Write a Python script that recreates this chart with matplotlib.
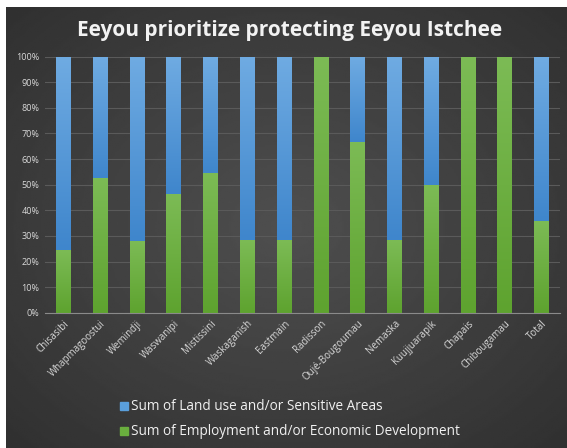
import matplotlib
matplotlib.use("Agg")
import matplotlib.pyplot as plt
import numpy as np
from matplotlib.colors import LinearSegmentedColormap

# datos
comunidades = ["Chisasibi", "Whapmagoostui", "Wemindji", "Waswanipi", "Mistissini",
               "Waskaganish", "Eastmain", "Radisson", "Oujé-Bougoumau", "Nemaska",
               "Kuujjuarapik", "Chapais", "Chibougamau", "Total"]
empleo = [24.5, 52.7, 28.0, 46.2, 54.7, 28.5, 28.5, 100, 66.7, 28.5, 50.0, 100, 100, 36.0]
tierra = [100 - v for v in empleo]
y_ticks = list(range(0, 101, 10))

plt.rcParams['font.family'] = ['Open Sans', 'DejaVu Sans']

fig = plt.figure(figsize=(5.67, 4.48), dpi=100)
fig.patch.set_facecolor('white')

# fondo oscuro con degradado radial
bg = fig.add_axes([6/567, 0, 1 - 6/567, 1 - 7/448])
gx, gy = np.meshgrid(np.linspace(-1, 1, 300), np.linspace(-1, 1, 240))
r = np.sqrt(gx**2 + gy**2)
bg.imshow(0.31 - 0.12 * np.clip(r / 1.4, 0, 1), cmap='gray', vmin=0, vmax=1,
          aspect='auto', extent=[0, 1, 0, 1])
bg.set_axis_off()

ax = fig.add_axes([45/567, (448 - 312.7)/448, 515/567, 256/448])
ax.patch.set_alpha(0)
x = np.arange(len(comunidades))
b_verde = ax.bar(x, empleo, width=0.4, color='#6aae3e', zorder=3)
b_azul = ax.bar(x, tierra, width=0.4, bottom=empleo, color='#4e94d6', zorder=3)

# degradado vertical dentro de cada barra (estilo excel)
cm_verde = LinearSegmentedColormap.from_list('v', ['#5ea32f', '#7cbb55'])
cm_azul = LinearSegmentedColormap.from_list('a', ['#3f86cc', '#6fabe2'])
grad = np.linspace(0, 1, 100).reshape(-1, 1)
for barras, cmap in [(b_verde, cm_verde), (b_azul, cm_azul)]:
    for b in barras:
        if b.get_height() <= 0:
            continue
        x0, y0 = b.get_x(), b.get_y()
        im = ax.imshow(grad, cmap=cmap, aspect='auto', origin='lower',
                       extent=[x0, x0 + b.get_width(), y0, y0 + b.get_height()], zorder=3.5)
        im.set_clip_path(b)

ax.set_xlim(-0.5, len(comunidades) - 0.5)
ax.set_ylim(0, 100)
ax.set_yticks(y_ticks)
ax.set_yticklabels([f"{t}%" for t in y_ticks], fontsize=6.5, color='#d9d9d9')
ax.set_xticks(x)
ax.set_xticklabels(comunidades, rotation=45, ha='right', rotation_mode='anchor',
                   fontsize=7, color='#d9d9d9')
ax.tick_params(length=0, pad=4)
ax.grid(axis='y', color='#5a5a5a', linewidth=0.8, zorder=0)
for s in ['top', 'right', 'left']:
    ax.spines[s].set_visible(False)
ax.spines['bottom'].set_color('#8a8a8a')
ax.spines['bottom'].set_zorder(4)

fig.text(0.51, 0.932, "Eeyou prioritize protecting Eeyou Istchee", ha='center', va='center',
         fontsize=15, fontweight='bold', color='#f2f2f2')

# leyenda
leg_items = [("Sum of Land use and/or Sensitive Areas", '#5a9fdc', 406),
             ("Sum of Employment and/or Economic Development", '#6aae3e', 431)]
for txt, col, yy in leg_items:
    fig.patches.append(plt.Rectangle((120/567, (448 - yy - 4)/448), 8/567, 8/448,
                                     transform=fig.transFigure, color=col))
    fig.text(131/567, (448 - yy)/448, txt, ha='left', va='center', fontsize=9.8,
             color='#f0f0f0')

fig.savefig("out.png", dpi=100)
